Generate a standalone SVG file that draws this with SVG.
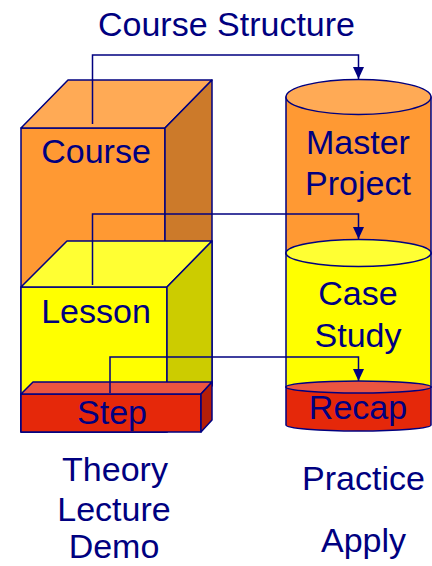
<svg xmlns="http://www.w3.org/2000/svg" width="432" height="566" viewBox="0 0 432 566">
<style>
.o{stroke:#000080;stroke-width:1.5;stroke-linejoin:round}
.t{font-family:"Liberation Sans",Arial,sans-serif;font-size:34px;fill:#000080;text-anchor:middle}
.c{fill:none;stroke:#000080;stroke-width:1.5}
</style>
<defs>
<marker id="ah" markerWidth="12" markerHeight="11" refX="12" refY="5.5" orient="auto" markerUnits="userSpaceOnUse" viewBox="0 0 12 11">
<path d="M0,0 L12,5.5 L0,11 Z" fill="#000080"/>
</marker>
</defs>
<rect width="432" height="566" fill="#fff"/>
<text class="t" x="226.5" y="36">Course Structure</text>

<g id="course">
<rect class="o" x="21" y="128" width="144" height="304" fill="#FF9933"/>
<polygon class="o" points="21,128 68,80 212,80 165,128" fill="#FFAA55"/>
<polygon class="o" points="165,128 212,80 212,385 165,432" fill="#CC7A2A"/>
<text class="t" x="96" y="163">Course</text>
</g>

<g id="lesson">
<rect class="o" x="21" y="287" width="146" height="145" fill="#FFFF00"/>
<polygon class="o" points="21,287 67,241 212,241 167,287" fill="#FFFF33"/>
<polygon class="o" points="167,287 212,241 212,386 167,432" fill="#CCCC00"/>
<text class="t" x="96" y="323">Lesson</text>
</g>

<g id="step">
<rect class="o" x="21" y="394" width="180" height="38" fill="#E5280A"/>
<polygon class="o" points="21,394 33,382 212,382 201,394" fill="#EB5540"/>
<polygon class="o" points="201,394 212,382 212,420 201,432" fill="#B51E08"/>
<text class="t" x="112" y="424">Step</text>
</g>

<g id="master-project">
<path class="o" d="M286,97 V253 A72.5,13 0 0 0 431,253 V97 Z" fill="#FF9933"/>
<ellipse class="o" cx="358.5" cy="97" rx="72.5" ry="17.5" fill="#FFAA55"/>
<text class="t" x="358" y="154">Master</text>
<text class="t" x="358" y="195">Project</text>
</g>

<g id="case-study">
<path class="o" d="M286,253 V387 A72.5,6 0 0 0 431,387 V253 Z" fill="#FFFF00"/>
<ellipse class="o" cx="358.5" cy="253" rx="72.5" ry="13.5" fill="#FFFF33"/>
<text class="t" x="358" y="305">Case</text>
<text class="t" x="358" y="347">Study</text>
</g>

<g id="recap">
<path class="o" d="M286,387 V425 A72.5,6 0 0 0 431,425 V387 Z" fill="#E5280A"/>
<ellipse class="o" cx="358.5" cy="387" rx="72.5" ry="6" fill="#EB5540"/>
<text class="t" x="358" y="419">Recap</text>
</g>

<g id="connectors">
<path class="c" d="M92.5,124 V55 H358.5 V79" marker-end="url(#ah)"/>
<path class="c" d="M92.5,285 V214 H358.5 V239" marker-end="url(#ah)"/>
<path class="c" d="M110,393 V357 H358.5 V381" marker-end="url(#ah)"/>
</g>

<g id="labels">
<text class="t" x="115" y="481">Theory</text>
<text class="t" x="114" y="521">Lecture</text>
<text class="t" x="114" y="558">Demo</text>
<text class="t" x="363.5" y="490">Practice</text>
<text class="t" x="363.5" y="552">Apply</text>
</g>
</svg>
